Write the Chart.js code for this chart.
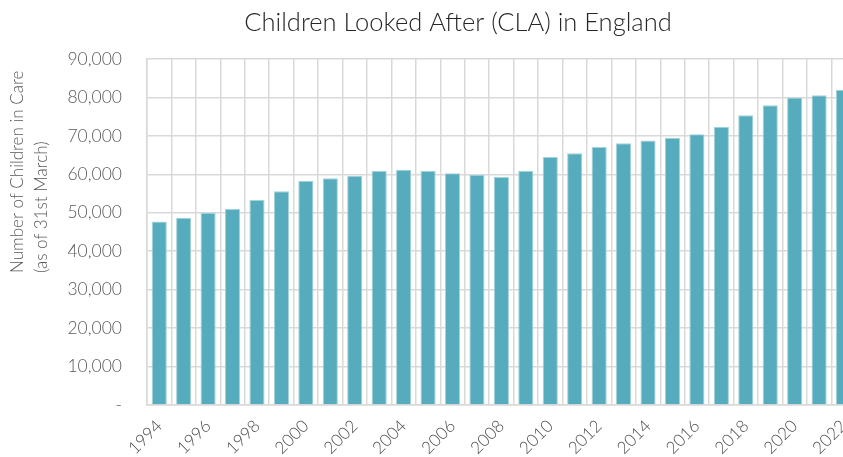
<!DOCTYPE html>
<html>
<head>
<meta charset="utf-8">
<script src="https://cdn.jsdelivr.net/npm/chart.js@4.4.1/dist/chart.umd.min.js"></script>
<style>
    body { margin: 0; overflow: hidden; background: #fff; }
    #wrap { width: 869px; height: 465px; }
</style>
</head>
<body>
<div id="wrap"><canvas id="claChart"></canvas></div>
<script>
// children looked after at 31 March each year
const years = ['1994', '1995', '1996', '1997', '1998', '1999', '2000', '2001', '2002', '2003',
    '2004', '2005', '2006', '2007', '2008', '2009', '2010', '2011', '2012', '2013',
    '2014', '2015', '2016', '2017', '2018', '2019', '2020', '2021', '2022'];
const children = [47700, 48700, 50000, 51000, 53300, 55600, 58300, 59000, 59600, 60900,
    61200, 60900, 60300, 59900, 59300, 60900, 64500, 65500, 67100, 68100,
    68800, 69500, 70400, 72400, 75400, 78000, 80000, 80600, 82000];
const yTicks = [0, 10000, 20000, 30000, 40000, 50000, 60000, 70000, 80000, 90000];

const chartTitle = 'Children Looked After (CLA) in England';
const yTitle = ['Number of Children in Care', '(as of 31st March)'];

const fontFamily = "Lato, 'Open Sans', sans-serif";
const gridGrey = '#d9d9d9';

// title and the left-aligned axis caption are drawn by hand
const textPlugin = {
    id: 'textPlugin',
    afterDraw(chart) {
        const ctx = chart.ctx;
        ctx.save();
        ctx.fillStyle = '#262626';
        ctx.font = '300 25.5px ' + fontFamily;
        ctx.textAlign = 'center';
        ctx.textBaseline = 'middle';
        ctx.fillText(chartTitle, 458, 23);

        ctx.fillStyle = '#595959';
        ctx.font = '300 17px ' + fontFamily;
        ctx.translate(18, 273);
        ctx.rotate(-Math.PI / 2);
        ctx.textAlign = 'left';
        yTitle.forEach((line, i) => ctx.fillText(line, 0, i * 24));
        ctx.restore();
    }
};

const ctx = document.getElementById('claChart').getContext('2d');
const claChart = new Chart(ctx, {
    type: 'bar',
    data: {
        labels: years,
        datasets: [{
            data: children,
            backgroundColor: '#56acbd',
            borderColor: '#a3d3dc',
            borderWidth: 1,
            barPercentage: 0.62,
            categoryPercentage: 1
        }]
    },
    options: {
        responsive: true,
        maintainAspectRatio: false,
        animation: false,
        layout: { padding: { top: 59, left: 0, right: 1, bottom: 0 } },
        plugins: {
            legend: { display: false },
            tooltip: { enabled: false }
        },
        scales: {
            x: {
                grid: { color: gridGrey, lineWidth: 1.5, drawTicks: false, offset: true },
                border: { color: gridGrey, width: 1.5 },
                ticks: {
                    autoSkip: false,
                    maxRotation: 45,
                    minRotation: 45,
                    padding: 11,
                    color: '#4d4d4d',
                    font: { family: fontFamily, size: 17, weight: 300 },
                    callback: function (value, index) {
                        return index % 2 === 0 ? years[index] : '';
                    }
                },
                afterFit(scale) { scale.height = 60; }
            },
            y: {
                min: 0,
                max: 90000,
                grid: { color: gridGrey, lineWidth: 1.5, drawTicks: false },
                border: { color: gridGrey, width: 1.5 },
                afterBuildTicks(scale) {
                    scale.ticks = yTicks.map(v => ({ value: v }));
                },
                ticks: {
                    padding: 25,
                    color: '#595959',
                    font: { family: fontFamily, size: 17.5, weight: 300 },
                    callback: function (value) {
                        return value === 0 ? '-' : value.toLocaleString('en-GB');
                    }
                },
                afterFit(scale) { scale.width = 147; }
            }
        }
    },
    plugins: [textPlugin]
});
</script>
</body>
</html>
